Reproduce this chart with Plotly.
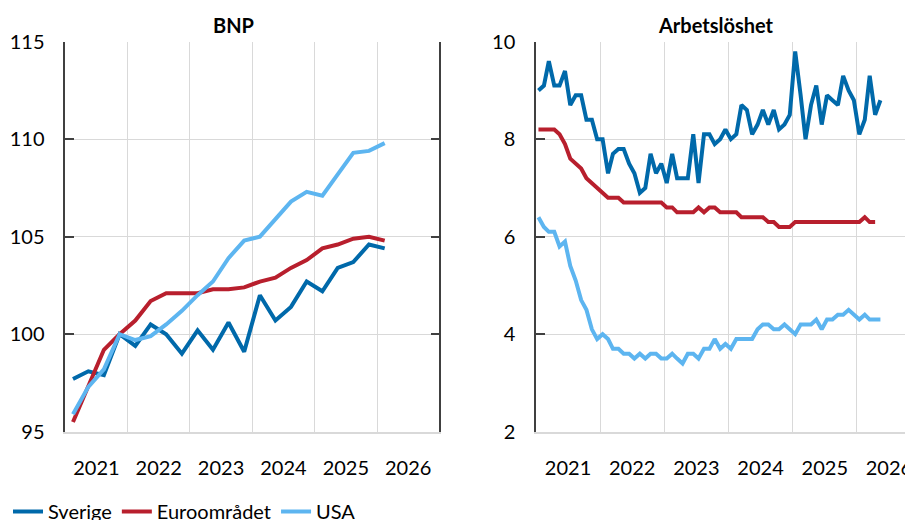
import pandas as pd
import plotly.graph_objects as go

# ---------------- data ----------------
# BNP (index), quarterly 2021Q1 - 2026Q1
bnp_quarters = pd.date_range("2021-01-01", periods=21, freq="QS") + pd.Timedelta(days=45)
bnp_sverige = [97.7, 98.1, 97.9, 100.0, 99.4, 100.5, 100.0, 99.0, 100.2, 99.2, 100.6,
               99.1, 102.0, 100.7, 101.4, 102.7, 102.2, 103.4, 103.7, 104.6, 104.4]
bnp_euro = [95.5, 97.4, 99.2, 100.0, 100.7, 101.7, 102.1, 102.1, 102.1, 102.3, 102.3,
            102.4, 102.7, 102.9, 103.4, 103.8, 104.4, 104.6, 104.9, 105.0, 104.8]
bnp_usa = [95.9, 97.3, 98.2, 100.0, 99.7, 99.9, 100.5, 101.2, 102.0, 102.7, 103.9,
           104.8, 105.0, 105.9, 106.8, 107.3, 107.1, 108.2, 109.3, 109.4, 109.8]

# Arbetslöshet (%), monthly from Jan 2021
arb_sverige = [9.0, 9.1, 9.6, 9.1, 9.1, 9.4, 8.7, 8.9, 8.9, 8.4, 8.4, 8.0,
               8.0, 7.3, 7.7, 7.8, 7.8, 7.5, 7.3, 6.9, 7.0, 7.7, 7.3, 7.5,
               7.1, 7.7, 7.2, 7.2, 7.2, 8.1, 7.1, 8.1, 8.1, 7.9, 8.0, 8.2,
               8.0, 8.1, 8.7, 8.6, 8.1, 8.3, 8.6, 8.3, 8.6, 8.2, 8.3, 8.5,
               9.8, 8.9, 8.0, 8.7, 9.1, 8.3, 8.9, 8.8, 8.7, 9.3, 9.0, 8.8,
               8.1, 8.4, 9.3, 8.5, 8.8]
arb_euro = [8.2, 8.2, 8.2, 8.2, 8.1, 7.9, 7.6, 7.5, 7.4, 7.2, 7.1, 7.0,
            6.9, 6.8, 6.8, 6.8, 6.7, 6.7, 6.7, 6.7, 6.7, 6.7, 6.7, 6.7,
            6.6, 6.6, 6.5, 6.5, 6.5, 6.5, 6.6, 6.5, 6.6, 6.6, 6.5, 6.5,
            6.5, 6.5, 6.4, 6.4, 6.4, 6.4, 6.4, 6.3, 6.3, 6.2, 6.2, 6.2,
            6.3, 6.3, 6.3, 6.3, 6.3, 6.3, 6.3, 6.3, 6.3, 6.3, 6.3, 6.3,
            6.3, 6.4, 6.3, 6.3]
arb_usa = [6.4, 6.2, 6.1, 6.1, 5.8, 5.9, 5.4, 5.1, 4.7, 4.5, 4.1, 3.9,
           4.0, 3.9, 3.7, 3.7, 3.6, 3.6, 3.5, 3.6, 3.5, 3.6, 3.6, 3.5,
           3.5, 3.6, 3.5, 3.4, 3.6, 3.6, 3.5, 3.7, 3.7, 3.9, 3.7, 3.8,
           3.7, 3.9, 3.9, 3.9, 3.9, 4.1, 4.2, 4.2, 4.1, 4.1, 4.2, 4.1,
           4.0, 4.2, 4.2, 4.2, 4.3, 4.1, 4.3, 4.3, 4.4, 4.4, 4.5, 4.4,
           4.3, 4.4, 4.3, 4.3, 4.3]
arb_months = pd.date_range("2021-01-01", periods=65, freq="MS") + pd.Timedelta(days=14)

series_names = ["Sverige", "Euroområdet", "USA"]
colors = ["#0069AA", "#B81F2D", "#5DB5F0"]

W, H = 913, 520
OFF = 8  # page body margin of the html file
FONT = "Lato"
AX = "#404040"
GRID = "#D9D9D9"


def px(xw):
    return (xw - OFF) / W


def py(yw):
    return 1 - (yw - OFF) / H


fig = go.Figure()

for name, col, y in zip(series_names, colors, [bnp_sverige, bnp_euro, bnp_usa]):
    fig.add_trace(go.Scatter(x=bnp_quarters, y=y, name=name, mode="lines",
                             line=dict(color=col, width=4), xaxis="x", yaxis="y",
                             showlegend=True))
for name, col, y in zip(series_names, colors, [arb_sverige, arb_euro, arb_usa]):
    fig.add_trace(go.Scatter(x=arb_months[:len(y)], y=y, name=name, mode="lines",
                             line=dict(color=col, width=4), xaxis="x2", yaxis="y2",
                             showlegend=False))

ytop = py(41.7)
ybot = py(431.7)

xcommon = dict(type="date", dtick="M12", tick0="2021-01-01", ticklabelmode="period",
               tickformat="%Y", showgrid=True, gridcolor=GRID, gridwidth=1,
               showline=True, linecolor=GRID, linewidth=1.5, ticks="",
               tickfont=dict(family=FONT, size=20, color="#000"),
               ticklabelstandoff=18, zeroline=False, fixedrange=True)
ycommon = dict(showgrid=True, gridcolor=GRID, gridwidth=1, ticks="inside", ticklen=9,
               tickcolor=AX, tickwidth=1.5, showline=True, linecolor=AX, linewidth=1.5,
               mirror="ticks", zeroline=False,
               tickfont=dict(family=FONT, size=20, color="#000"),
               ticklabelstandoff=15, fixedrange=True)

fig.update_layout(
    width=W, height=H,
    margin=dict(l=0, r=0, t=0, b=0, autoexpand=False),
    paper_bgcolor="white", plot_bgcolor="white",
    font=dict(family=FONT, size=20, color="#000"),
    xaxis=dict(domain=[px(65.3), px(439.3)], range=["2021-01-01", "2027-01-01"],
               anchor="y", **xcommon),
    yaxis=dict(domain=[ybot, ytop], range=[95, 115], dtick=5, anchor="x", **ycommon),
    xaxis2=dict(domain=[px(536), 1.0], range=["2021-01-01", "2027-01-01"],
                anchor="y2", **xcommon),
    yaxis2=dict(domain=[ybot, ytop], range=[2, 10], dtick=2, anchor="x2", **ycommon),
    legend=dict(orientation="h", x=0, xanchor="left", y=py(492), yanchor="top",
                font=dict(family=FONT, size=20, color="#000"),
                bgcolor="rgba(0,0,0,0)", borderwidth=0),
    annotations=[
        dict(text="<b>BNP</b>", x=px(233.5), y=py(25), xref="paper", yref="paper",
             xanchor="center", yanchor="middle", showarrow=False,
             font=dict(family=FONT, size=20, color="#000")),
        dict(text="<b>Arbetslöshet</b>", x=px(716), y=py(25), xref="paper", yref="paper",
             xanchor="center", yanchor="middle", showarrow=False,
             font=dict(family=FONT, size=20, color="#000")),
    ],
)

fig.write_html("out.html")
